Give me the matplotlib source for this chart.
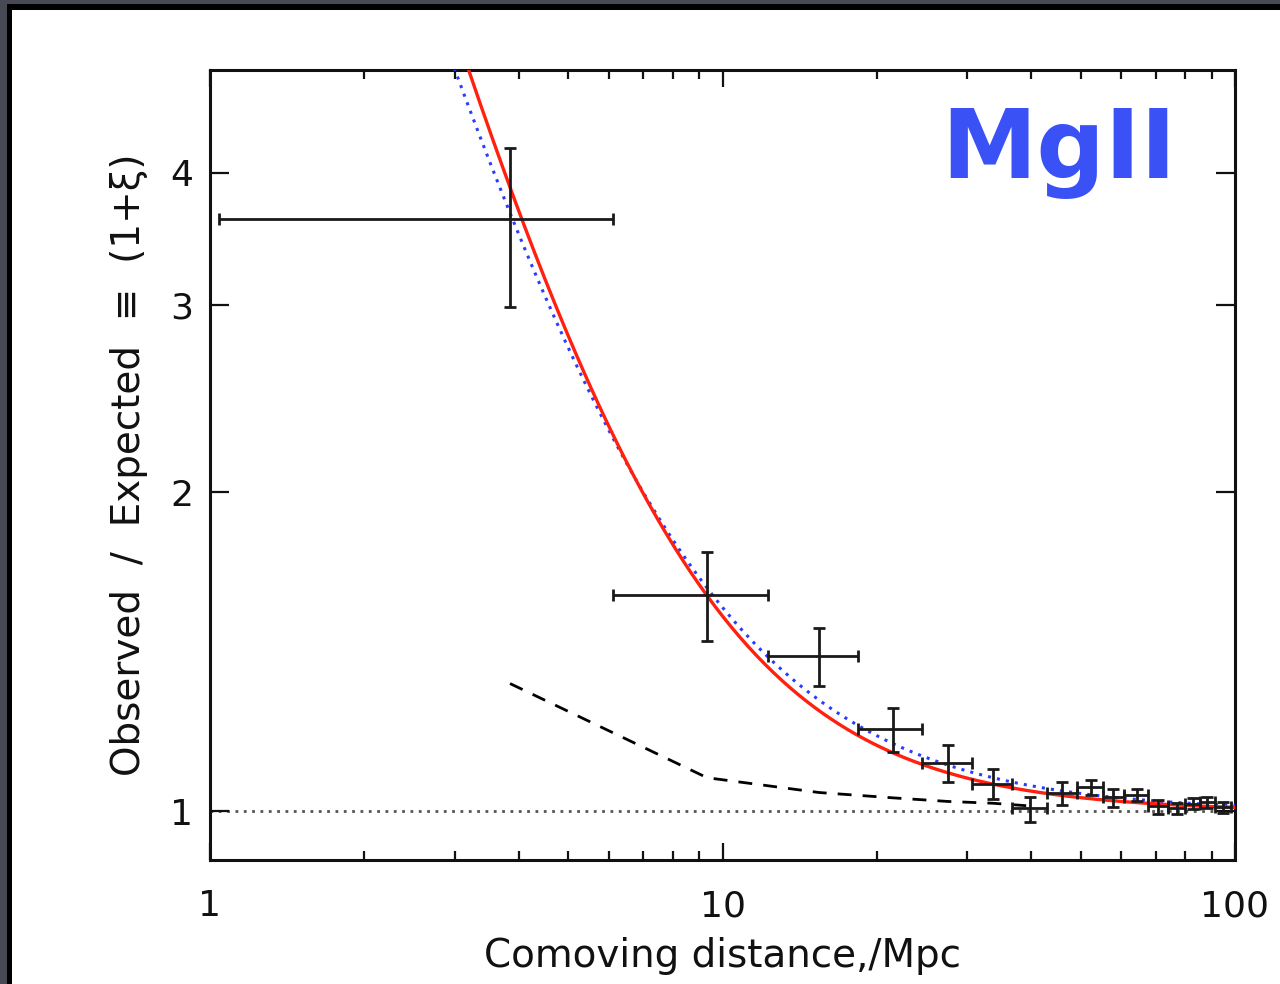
import numpy as np
import matplotlib
matplotlib.use("Agg")
import matplotlib.pyplot as plt
from matplotlib.patches import Rectangle
from matplotlib.ticker import FixedLocator, FixedFormatter, NullLocator, LogLocator, NullFormatter

# binned MgII cross-correlation: centre, bin edges, value and error range
r_mid = [3.85, 9.33, 15.43, 21.5, 27.5, 33.7, 39.8, 45.9, 52.4, 57.8, 64.4, 70.8, 77.1, 82.8, 88.2, 94.8]
r_lo = [1.04, 6.11, 12.27, 18.38, 24.5, 30.7, 36.7, 43.0, 49.2, 55.3, 60.7, 67.6, 74.0, 80.0, 85.4, 91.6]
r_hi = [6.11, 12.27, 18.38, 24.5, 30.7, 36.7, 43.0, 49.2, 55.3, 60.7, 67.6, 74.0, 80.0, 85.4, 91.6, 98.3]
ratio = [3.62, 1.60, 1.40, 1.196, 1.112, 1.062, 1.0065, 1.042, 1.055, 1.033, 1.037, 1.011, 1.0065, 1.017, 1.020, 1.009]
ratio_lo = [2.99, 1.447, 1.313, 1.138, 1.067, 1.028, 0.977, 1.015, 1.037, 1.009, 1.022, 0.994, 0.994, 1.005, 1.008, 0.997]
ratio_hi = [4.22, 1.757, 1.488, 1.252, 1.156, 1.097, 1.031, 1.065, 1.071, 1.049, 1.049, 1.026, 1.019, 1.029, 1.032, 1.021]

# dashed comparison curve
dash_r = [3.85, 9.33, 15.43, 21.5, 27.5, 33.7, 39.8]
dash_y = [1.32, 1.076, 1.042, 1.030, 1.022, 1.018, 1.012]

# power-law fits 1 + (r/r0)^-gamma
r0_fit, gamma_fit = 6.98, 1.775
r0_alt, gamma_alt = 7.0, 1.64

fig = plt.figure(figsize=(12.8, 9.84), dpi=100)
fig.patch.set_facecolor("#474a55")
fig.patches.append(Rectangle((7/1280, 0), 1, (984-4)/984, transform=fig.transFigure,
                             facecolor="black", edgecolor="none", zorder=-2))
fig.patches.append(Rectangle((12/1280, 0), 1, (984-10)/984, transform=fig.transFigure,
                             facecolor="white", edgecolor="none", zorder=-1))

ax = fig.add_axes([210/1280, 1-860/984, (1235-210)/1280, (860-70)/984])
ax.set_xscale("log")
ax.set_yscale("log")
ax.set_xlim(1, 100)
ax.set_ylim(0.9, 5.0)

r = np.logspace(0, 2, 500)
ax.plot(r, 1 + (r/r0_alt)**(-gamma_alt), color="#2a3cff", ls=(0, (1, 2.0)), lw=2.2, zorder=3)
ax.plot(r, 1 + (r/r0_fit)**(-gamma_fit), color="#ff2010", lw=2.4, zorder=4)
ax.plot(dash_r, dash_y, color="black", ls=(0, (5, 4)), lw=2.0, zorder=2)
ax.axhline(1.0, color="#555555", ls=(0, (1, 2)), lw=2.0, zorder=1)

r_mid_a = np.array(r_mid)
ratio_a = np.array(ratio)
xerr = [r_mid_a - np.array(r_lo), np.array(r_hi) - r_mid_a]
yerr = [ratio_a - np.array(ratio_lo), np.array(ratio_hi) - ratio_a]
ax.errorbar(r_mid, ratio, xerr=xerr, yerr=yerr, fmt="none", ecolor="#1a1a1a",
            elinewidth=2.0, capsize=4.3, capthick=2.0, zorder=5)

ax.xaxis.set_major_locator(FixedLocator([1, 10, 100]))
ax.xaxis.set_major_formatter(FixedFormatter(["1", "10", "100"]))
ax.xaxis.set_minor_locator(LogLocator(base=10, subs=np.arange(2, 10)))
ax.xaxis.set_minor_formatter(NullFormatter())
ax.yaxis.set_major_locator(FixedLocator([1, 2, 3, 4]))
ax.yaxis.set_major_formatter(FixedFormatter(["1", "2", "3", "4"]))
ax.yaxis.set_minor_locator(NullLocator())

ax.tick_params(which="both", direction="in", top=True, right=True, width=1.6,
               color="#111111", labelsize=26, labelcolor="#111111")
ax.tick_params(axis="x", which="major", length=12, pad=21)
ax.tick_params(axis="x", which="minor", length=6.5)
ax.tick_params(axis="y", which="major", length=14, pad=12)
for s in ax.spines.values():
    s.set_linewidth(2.2)
    s.set_color("#111111")

ax.set_xlabel("Comoving distance,/Mpc", fontsize=28, color="#111111", labelpad=10)
ax.set_ylabel("Observed  /  Expected  \u2261  (1+\u03be)", fontsize=28, color="#111111", labelpad=16)

ax.text(0.713, 0.863, "MgII", transform=ax.transAxes, fontsize=69, fontweight="bold",
        color="#3a52f5", ha="left", va="baseline")

fig.savefig("out.png", dpi=100, facecolor=fig.get_facecolor())
